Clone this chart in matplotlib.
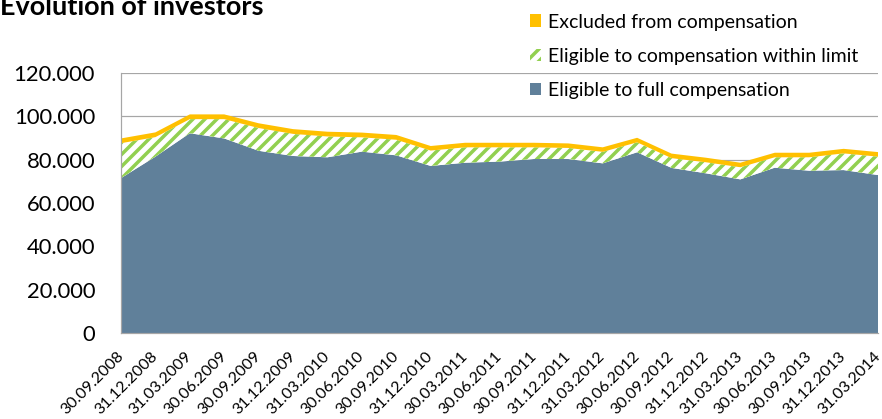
import matplotlib
matplotlib.use("Agg")
import matplotlib.pyplot as plt
import matplotlib.ticker as mticker
from matplotlib.patches import Patch
from matplotlib.transforms import ScaledTranslation
import numpy as np

dates = ["30.09.2008", "31.12.2008", "31.03.2009", "30.06.2009", "30.09.2009",
         "31.12.2009", "31.03.2010", "30.06.2010", "30.09.2010", "31.12.2010",
         "30.03.2011", "30.06.2011", "30.09.2011", "31.12.2011", "31.03.2012",
         "30.06.2012", "30.09.2012", "31.12.2012", "31.03.2013", "30.06.2013",
         "30.09.2013", "31.12.2013", "31.03.2014"]

full_comp = [71500, 81400, 92200, 89800, 84100, 81700, 81100, 83700, 82000, 77100,
             78600, 79100, 80300, 80300, 78300, 83400, 76200, 73700, 70900, 76300,
             74900, 75200, 72900]
within_limit = [16100, 9000, 6500, 8900, 10500, 10200, 9600, 6600, 7200, 7100,
                7100, 6600, 5400, 5100, 5300, 4600, 4500, 5100, 5600, 4800,
                6200, 7700, 8500]
excluded = [2200, 2200, 2200, 2200, 2200, 2200, 2200, 2200, 2200, 2100,
            2100, 2100, 2100, 2100, 2100, 2100, 2100, 2100, 2100, 2100,
            2100, 2100, 2100]

yticks = [0, 20000, 40000, 60000, 80000, 100000, 120000]

C_BLUE = "#60809A"
C_GREEN = "#92D050"
C_YELLOW = "#FFC000"
C_GRID = "#A6A6A6"

plt.rcParams["font.family"] = ["Lato", "DejaVu Sans"]
plt.rcParams["hatch.linewidth"] = 3.5
plt.rcParams["hatch.color"] = C_GREEN

DPI = 72
fig = plt.figure(figsize=(882 / DPI, 419 / DPI), dpi=DPI)
ax = fig.add_axes([121 / 882, 86 / 419, 757 / 882, 260 / 419])

x = np.arange(len(dates))
full = np.array(full_comp, dtype=float)
lim = np.array(within_limit, dtype=float)
exc = np.array(excluded, dtype=float)

ax.fill_between(x, 0, full, facecolor=C_BLUE, edgecolor="none", lw=0, zorder=2)
ax.fill_between(x, full, full + lim, facecolor="white", edgecolor=C_GREEN,
                hatch="//", lw=0, zorder=2)
ax.fill_between(x, full + lim, full + lim + exc, facecolor=C_YELLOW,
                edgecolor="none", lw=0, zorder=3)

ax.set_xlim(0, len(dates) - 1)
ax.set_ylim(0, 120000)
ax.set_yticks(yticks)
ax.yaxis.set_major_formatter(mticker.FuncFormatter(
    lambda v, p: "{:,.0f}".format(v).replace(",", ".")))
ax.set_xticks(x)
ax.set_xticklabels(dates, rotation=45, ha="right", va="baseline",
                   rotation_mode="anchor", fontsize=16)
ax.tick_params(axis="x", length=0, pad=24)
ax.tick_params(axis="y", length=0, pad=26, labelsize=22)
shift = ScaledTranslation(3 / 72, 0, fig.dpi_scale_trans)
for lab in ax.get_xticklabels():
    lab.set_transform(lab.get_transform() + shift)
ax.grid(axis="y", color=C_GRID, lw=1.2, zorder=1)
ax.set_axisbelow(True)
for s in ["top", "right"]:
    ax.spines[s].set_visible(False)
for s in ["left", "bottom"]:
    ax.spines[s].set_color(C_GRID)
    ax.spines[s].set_linewidth(1.2)
    ax.spines[s].set_zorder(4)

fig.text(0.0, 1 - 15 / 419, "Evolution of investors", fontsize=27,
         fontweight="bold", va="baseline", ha="left")

handles = [Patch(facecolor=C_YELLOW, edgecolor="none"),
           Patch(facecolor="white", edgecolor=C_GREEN, hatch="//", lw=0),
           Patch(facecolor=C_BLUE, edgecolor="none")]
labels = ["Excluded from compensation", "Eligible to compensation within limit",
          "Eligible to full compensation"]
fig.legend(handles, labels, loc="upper left", bbox_to_anchor=(512 / 882, 1 + 4 / 419),
           frameon=False, fontsize=19.5, handlelength=0.6, handleheight=0.6,
           handletextpad=0.35, labelspacing=0.88)

fig.savefig("out.png", dpi=DPI)
